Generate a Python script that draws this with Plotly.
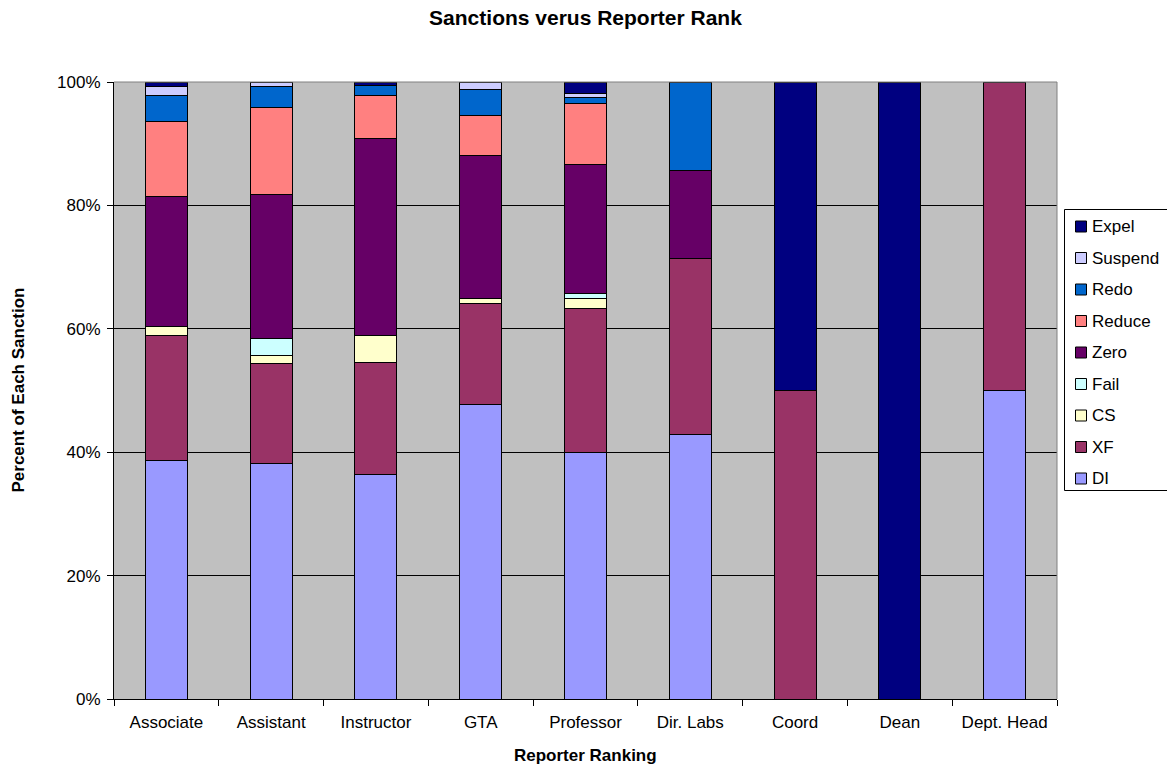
import plotly.graph_objects as go

categories = ["Associate", "Assistant", "Instructor", "GTA", "Professor",
              "Dir. Labs", "Coord", "Dean", "Dept. Head"]

# Percent of each sanction per reporter rank (stack order bottom -> top)
DI      = [38.6, 38.1, 36.4, 47.7, 40.0, 42.86, 0, 0, 50]
XF      = [20.3, 16.2, 18.2, 16.4, 23.3, 28.57, 50, 0, 50]
CS      = [1.4, 1.3, 4.3, 0.8, 1.6, 0, 0, 0, 0]
Fail    = [0, 2.9, 0, 0, 0.9, 0, 0, 0, 0]
Zero    = [21.1, 23.3, 32.0, 23.2, 20.9, 14.29, 0, 0, 0]
Reduce  = [12.2, 14.0, 6.9, 6.5, 9.8, 0, 0, 0, 0]
Redo    = [4.2, 3.4, 1.6, 4.2, 1.0, 14.28, 0, 0, 0]
Suspend = [1.4, 0.8, 0, 1.2, 0.7, 0, 0, 0, 0]
Expel   = [0.8, 0, 0.6, 0, 1.8, 0, 50, 100, 0]

series_names = ["DI", "XF", "CS", "Fail", "Zero", "Reduce", "Redo", "Suspend", "Expel"]
series_values = [DI, XF, CS, Fail, Zero, Reduce, Redo, Suspend, Expel]
series_colors = ["#9999FF", "#993366", "#FFFFCC", "#CCFFFF", "#660066",
                 "#FF8080", "#0066CC", "#CCCCFF", "#000080"]

y_tickvals = [0, 20, 40, 60, 80, 100]
y_ticktext = ["0%", "20%", "40%", "60%", "80%", "100%"]

FONT = "Liberation Sans, Arial, sans-serif"
W, H = 1167, 766
L, R, T, B = 114, 110, 82, 67
PW, PH = W - L - R, H - T - B


def px_x(p):
    return (p - L) / PW


def px_y(p):
    return (H - B - p) / PH


fig = go.Figure()
for name, vals, col in zip(series_names, series_values, series_colors):
    fig.add_trace(go.Bar(
        x=categories, y=vals, name=name,
        marker=dict(color=col, line=dict(color="black", width=1)),
    ))

shapes = [
    dict(type="line", xref="paper", yref="paper", x0=0, x1=1, y0=1, y1=1,
         line=dict(color="#808080", width=1), layer="above"),
    dict(type="line", xref="paper", yref="paper", x0=1, x1=1, y0=0, y1=1,
         line=dict(color="#808080", width=1), layer="above"),
    # legend box (runs off the right edge as in the reference)
    dict(type="rect", xref="paper", yref="paper",
         x0=px_x(1064.5), x1=px_x(1175), y0=px_y(209.5), y1=px_y(490.5),
         fillcolor="white", line=dict(color="black", width=1), layer="above"),
]
annotations = [
    dict(text="<b>Reporter Ranking</b>", xref="paper", yref="paper",
         x=0.5, y=px_y(755), xanchor="center", yanchor="middle",
         showarrow=False, font=dict(family=FONT, size=17, color="black")),
    dict(text="<b>Percent of Each Sanction</b>", xref="paper", yref="paper",
         x=px_x(18), y=0.5, xanchor="center", yanchor="middle",
         textangle=-90, showarrow=False,
         font=dict(family=FONT, size=17, color="black")),
]

# legend entries, top to bottom: Expel ... DI
for i, (name, col) in enumerate(zip(series_names[::-1], series_colors[::-1])):
    cy = 226.5 + i * 31.5
    shapes.append(dict(type="rect", xref="paper", yref="paper",
                       x0=px_x(1075.5), x1=px_x(1086.5),
                       y0=px_y(cy - 5.5), y1=px_y(cy + 5.5),
                       fillcolor=col, line=dict(color="black", width=1),
                       layer="above"))
    annotations.append(dict(text=name, xref="paper", yref="paper",
                            x=px_x(1090), y=px_y(cy), xanchor="left",
                            yanchor="middle", showarrow=False,
                            font=dict(family=FONT, size=17, color="black")))

fig.update_layout(
    width=W, height=H,
    barmode="stack", bargap=0.6,
    paper_bgcolor="white", plot_bgcolor="#C0C0C0",
    margin=dict(l=L, r=R, t=T, b=B, pad=0),
    font=dict(family=FONT, size=17, color="black"),
    title=dict(text="<b>Sanctions verus Reporter Rank</b>",
               x=0.5, xref="paper", xanchor="center",
               y=1 - 18 / H, yref="container", yanchor="middle",
               font=dict(family=FONT, size=21, color="black")),
    showlegend=False,
    xaxis=dict(showgrid=False, showline=True, linecolor="black", linewidth=1,
               ticks="outside", ticklen=6, tickcolor="black", tickson="boundaries",
               ticklabelstandoff=8,
               tickfont=dict(family=FONT, size=17, color="black")),
    yaxis=dict(range=[0, 100], tickvals=y_tickvals, ticktext=y_ticktext,
               showgrid=True, gridcolor="black", gridwidth=1, zeroline=False,
               showline=True, linecolor="black", linewidth=1,
               ticks="outside", ticklen=6, tickcolor="black",
               ticklabelstandoff=3,
               tickfont=dict(family=FONT, size=17, color="black")),
    annotations=annotations,
    shapes=shapes,
)

fig.write_html("out.html", config={"displayModeBar": False},
               post_script="document.body.style.margin='0';document.body.style.overflow='hidden';")
